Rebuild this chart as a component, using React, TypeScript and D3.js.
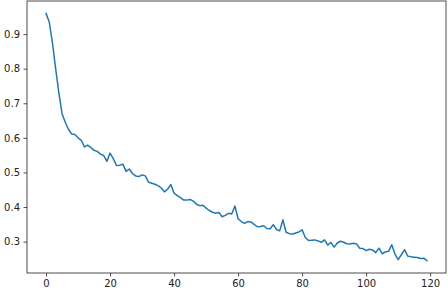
import * as React from "react";
import * as d3 from "d3";

// values per epoch
const lossValues: number[] = [
  0.96, 0.935, 0.875, 0.8, 0.73, 0.67, 0.645, 0.625, 0.611, 0.61,
  0.6, 0.593, 0.574, 0.579, 0.572, 0.564, 0.561, 0.553, 0.549, 0.532,
  0.556, 0.54, 0.52, 0.521, 0.524, 0.503, 0.51, 0.497, 0.49, 0.488,
  0.493, 0.49, 0.472, 0.469, 0.466, 0.462, 0.455, 0.444, 0.452, 0.465,
  0.44, 0.433, 0.427, 0.42, 0.42, 0.422, 0.417, 0.408, 0.404, 0.405,
  0.397, 0.39, 0.385, 0.382, 0.384, 0.372, 0.376, 0.382, 0.38, 0.403,
  0.366, 0.358, 0.353, 0.358, 0.357, 0.35, 0.343, 0.344, 0.346, 0.338,
  0.337, 0.349, 0.335, 0.331, 0.363, 0.327, 0.323, 0.322, 0.325, 0.328,
  0.334, 0.312, 0.303, 0.304, 0.305, 0.302, 0.298, 0.305, 0.29, 0.298,
  0.284, 0.296, 0.301, 0.298, 0.294, 0.293, 0.295, 0.293, 0.281, 0.28,
  0.274, 0.278, 0.276, 0.268, 0.281, 0.265, 0.27, 0.272, 0.291, 0.264,
  0.248, 0.262, 0.277, 0.258, 0.256, 0.255, 0.254, 0.251, 0.252, 0.245
];
const xTicks: number[] = [0, 20, 40, 60, 80, 100, 120];
const yTicks: number[] = [0.3, 0.4, 0.5, 0.6, 0.7, 0.8, 0.9];

const LossChart: React.FunctionComponent = () => {
  const chartContainer = React.useRef<SVGSVGElement>(null);

  React.useEffect(() => {
    const width = 448;
    const height = 292;
    const margin = { top: 1, right: 2, bottom: 19, left: 27 };
    const svg = d3.select(chartContainer.current);
    svg.selectAll("*").remove();

    const n = lossValues.length - 1;
    const xPad = n * 0.05;
    const yMin = d3.min(lossValues) as number;
    const yMax = d3.max(lossValues) as number;
    const yPad = (yMax - yMin) * 0.05;

    const x = d3
      .scaleLinear()
      .domain([-xPad, n + xPad])
      .range([margin.left, width - margin.right]);
    const y = d3
      .scaleLinear()
      .domain([yMin - yPad, yMax + yPad])
      .range([height - margin.bottom, margin.top]);

    const styleAxis = g =>
      g
        .call(g => g.select(".domain").remove())
        .call(g => g.selectAll("line").attr("stroke", "#222").attr("stroke-width", 0.8))
        .call(g =>
          g
            .selectAll("text")
            .attr("fill", "#222")
            .attr("font-family", "DejaVu Sans")
            .attr("font-size", 10)
        );

    svg
      .append("g")
      .attr("transform", `translate(0,${height - margin.bottom})`)
      .call(
        d3
          .axisBottom(x)
          .tickValues(xTicks)
          .tickFormat(d3.format("d"))
          .tickSize(3.5)
          .tickPadding(3.5)
      )
      .call(styleAxis);

    svg
      .append("g")
      .attr("transform", `translate(${margin.left},0)`)
      .call(
        d3
          .axisLeft(y)
          .tickValues(yTicks)
          .tickFormat(d3.format(".1f"))
          .tickSize(3.5)
          .tickPadding(3.5)
      )
      .call(styleAxis);

    const line = d3
      .line<number>()
      .x((d, i) => x(i))
      .y(d => y(d));

    svg
      .append("path")
      .datum(lossValues)
      .attr("d", line)
      .attr("fill", "none")
      .attr("stroke", "#1f77b4")
      .attr("stroke-width", 1.5)
      .attr("stroke-linejoin", "round")
      .attr("stroke-linecap", "square");

    // axes frame
    svg
      .append("rect")
      .attr("x", margin.left)
      .attr("y", margin.top)
      .attr("width", width - margin.left - margin.right)
      .attr("height", height - margin.top - margin.bottom)
      .attr("fill", "none")
      .attr("stroke", "#222")
      .attr("stroke-width", 0.8);
  }, []);

  return (
    <svg
      ref={chartContainer}
      width={448}
      height={292}
      style={{ position: "absolute", left: 0, top: 0, background: "#fff" }}
    />
  );
};

export default function App() {
  return <LossChart />;
}
